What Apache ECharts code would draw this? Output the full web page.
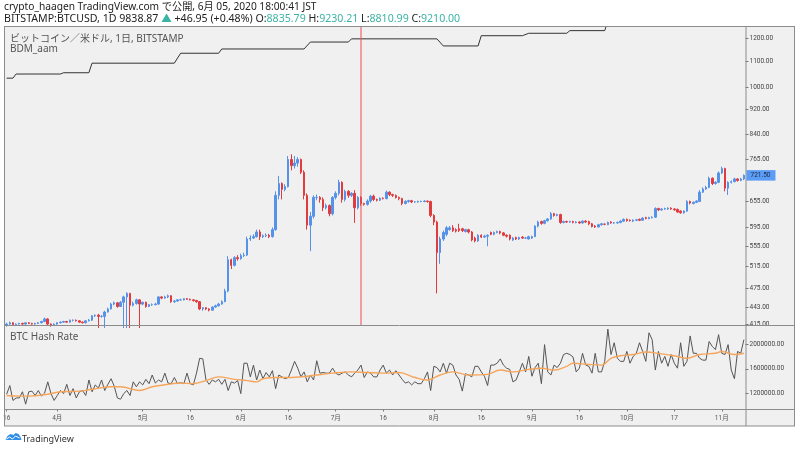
<!DOCTYPE html>
<html><head><meta charset="utf-8">
<script src="https://cdn.jsdelivr.net/npm/echarts@6/dist/echarts.min.js"></script>
<style>html,body{margin:0;padding:0;background:#fff;}#c{width:800px;height:449px;}</style>
</head><body><div id="c"></div>
<script>
// ---- categories (daily bars, a few days missing in the source feed) ----
const firstDate = '2016-03-16';
const lastDate = '2016-11-08';
const missingDates = ['2016-04-12', '2016-04-13', '2016-04-14', '2016-10-16'];
const dates = [];
(function () {
  let t = Date.parse(firstDate + 'T00:00:00Z');
  const end = Date.parse(lastDate + 'T00:00:00Z');
  while (t <= end) {
    const s = new Date(t).toISOString().slice(0, 10);
    if (missingDates.indexOf(s) < 0) dates.push(s);
    t += 86400000;
  }
})();

// ---- x tick labels ----
const xTickDates = ['2016-03-16','2016-04-01','2016-05-01','2016-05-16','2016-06-01','2016-06-16','2016-07-01','2016-07-16','2016-08-01','2016-08-16','2016-09-01','2016-09-16','2016-10-01','2016-10-17','2016-11-01'];
const xTickLabels = ['16','4月','5月','16','6月','16','7月','16','8月','16','9月','16','10月','17','11月'];

// ---- price axis ticks ----
const priceTicks = [415, 443, 475, 515, 555, 595, 655, 765, 840, 920, 1000, 1100, 1200];
const priceMin = 413.8, priceMax = 1252;
const lastPrice = 721.5;
const cursorDate = '2016-07-09';

// ---- candles ----
const opens = [
414,416,418,415,416,417,416,418,417,416,
417,418,420,424,416,414,416,418,419,420,
419,422,422,421,419,418,421,422,429,430,
428,428,435,440,448,450,444,451,460,466,
446,449,455,448,451,444,447,447,448,460,
458,460,462,452,453,455,455,457,456,455,
454,452,440,442,440,438,443,445,448,452,
470,528,517,532,530,536,537,570,572,575,
585,575,577,578,575,590,670,700,685,692,
765,748,755,765,730,670,600,620,665,665,
660,640,645,626,665,675,703,660,680,670,
675,640,665,650,648,656,668,660,658,663,
662,678,672,670,665,662,650,655,657,654,
654,655,655,656,655,622,607,542,570,580,
590,594,590,592,592,586,590,585,572,566,
578,574,576,584,580,584,586,583,578,578,
568,573,570,574,572,570,572,575,598,608,
604,610,614,626,622,624,606,608,607,608,
606,607,605,609,608,603,598,596,601,602,
601,607,605,605,606,609,613,611,609,611,
613,611,617,615,617,618,638,635,637,637,
639,637,636,632,628,632,655,650,653,655,
678,686,690,714,700,703,728,740,688,703,
705,712,708,712];
const closes = [
416,418,415,416,417,416,418,417,416,417,
418,420,424,416,414,416,418,419,420,419,
422,422,421,419,418,421,422,429,430,428,
428,435,440,448,450,444,451,460,466,446,
449,455,448,451,444,447,447,448,460,458,
460,462,452,453,455,455,457,456,455,454,
452,440,442,440,438,443,445,448,452,470,
528,517,532,530,536,537,570,572,575,585,
575,577,578,575,590,670,700,685,692,765,
748,755,765,730,670,600,620,665,665,660,
640,645,626,665,675,703,660,680,670,675,
640,665,650,648,656,668,660,658,663,662,
678,672,670,665,662,650,655,657,654,654,
655,655,656,655,622,607,542,570,584,594,
594,588,587,588,588,590,585,568,566,578,
574,576,578,580,584,586,583,578,576,570,
572,570,573,572,572,575,575,598,607,604,
610,614,626,622,624,606,608,607,608,606,
607,605,609,607,603,597,596,601,603,602,
606,605,605,606,609,613,610,610,611,612,
611,616,615,617,618,638,635,637,638,639,
637,635,630,628,632,655,651,653,656,678,
686,690,714,700,703,728,740,688,703,705,
712,708,712,721.5];
const lows = [
412,415,413,414,415,415,415,416,415,415,
416,417,419,414,412,413,415,417,418,418,
418,420,420,418,417,417,420,421,427,410,
426,410,434,439,446,442,443,410,410,410,
444,447,410,446,442,443,445,446,447,456,
457,458,450,450,452,454,454,455,454,452,
450,438,437,438,436,437,442,444,447,451,
468,510,515,526,528,533,535,566,570,573,
568,572,574,572,573,588,660,660,680,690,
735,740,745,725,660,590,545,615,658,652,
632,636,620,622,660,670,652,655,664,666,
605,636,645,645,645,652,656,655,656,660,
660,668,666,662,658,646,648,652,651,652,
652,653,653,652,618,600,466,520,566,576,
588,585,584,585,585,584,582,565,563,564,
572,572,555,578,578,582,580,576,573,567,
566,568,568,570,570,569,570,574,595,601,
602,608,612,619,620,603,604,605,605,604,
604,603,603,605,600,595,594,595,599,600,
600,603,603,603,604,607,608,608,607,609,
609,610,613,613,615,616,632,633,635,635,
635,633,628,626,626,630,648,648,651,654,
676,684,688,696,697,701,725,680,671,700,
703,705,706,709];
const highs = [
418,420,419,417,418,418,419,419,418,418,
419,421,426,425,417,417,419,420,421,421,
423,423,423,422,420,422,424,430,431,432,
430,437,442,450,452,451,453,462,468,467,
452,457,456,452,452,448,449,450,461,461,
462,464,463,455,456,457,458,458,457,456,
455,453,443,443,441,444,447,450,454,474,
535,530,535,537,540,542,575,578,580,590,
590,580,582,581,595,680,720,703,698,775,
780,775,772,768,735,675,630,670,672,668,
665,650,648,668,680,710,706,684,683,678,
683,668,668,652,660,671,672,662,665,665,
682,680,674,672,667,664,658,659,659,656,
657,657,658,657,657,625,610,575,588,598,
598,600,593,603,594,592,592,587,575,580,
580,579,580,586,586,588,588,585,580,580,
574,575,575,576,574,577,577,600,610,610,
612,616,630,628,626,626,610,610,610,610,
609,609,611,611,610,605,600,603,605,604,
608,609,607,608,611,615,615,613,613,614,
615,618,619,619,620,641,640,639,640,641,
641,639,638,634,634,658,657,655,658,683,
690,694,718,716,706,732,745,742,706,708,
715,714,715,724];

// ---- BDM_aam step line (corner points: bar index, value) ----
const bdmIdx = [0,2,3,17,18,26,27,53,55,67,68,94,96,108,109,136,138,149,150,163,165,177,178,189,191,233];
const bdmVal = [1034,1034,1050,1050,1055,1055,1093,1093,1134,1134,1152,1152,1182,1182,1196,1196,1165,1165,1210,1210,1221,1221,1233,1233,1320,1320];

// ---- BTC hash rate (millions) ----
const hashRate = [
1.19,1.33,1.09,1.13,1.13,1.23,1.03,1.23,1.24,
1.17,1.25,1.16,1.21,1.39,1.20,1.09,1.17,1.25,
1.20,1.35,1.17,1.28,1.13,1.23,1.25,1.17,1.42,1.23,
1.34,1.29,1.42,1.25,1.35,1.44,1.32,1.13,1.11,
1.20,1.25,1.17,1.39,1.31,1.39,1.34,1.43,1.36,1.50,
1.37,1.42,1.39,1.53,1.37,1.36,1.46,1.36,1.38,
1.36,1.53,1.36,1.34,1.53,1.77,1.76,1.42,1.35,1.42,
1.39,1.43,1.35,1.43,1.25,1.39,1.37,1.41,1.20,
1.69,1.69,1.47,1.66,1.42,1.58,1.44,1.54,1.47,1.57,
1.28,1.50,1.47,1.44,1.46,1.58,1.72,1.61,1.47,1.55,
1.39,1.50,1.42,1.73,1.53,1.54,1.53,1.53,1.61,
1.53,1.50,1.53,1.55,1.50,1.47,1.53,1.58,1.66,1.46,
1.55,1.53,1.47,1.47,1.58,1.66,1.53,1.58,1.50,1.57,1.50,
1.43,1.37,1.39,1.34,1.39,1.36,1.36,1.44,1.55,1.25,
1.64,1.62,1.55,1.69,1.53,1.69,1.66,1.50,1.43,1.24,
1.52,1.50,1.47,1.64,1.64,1.55,1.48,1.33,1.66,1.66,
1.69,1.76,1.66,1.61,1.59,1.39,1.42,1.55,1.69,1.55,
1.80,1.48,1.62,1.69,1.36,1.99,1.55,1.50,1.66,1.62,
1.69,1.83,1.85,1.83,1.79,1.55,1.61,1.85,1.66,1.64,
1.53,1.85,1.55,1.55,1.72,2.24,1.83,2.02,1.77,1.72,
1.72,1.88,1.69,1.80,1.85,2.02,1.88,1.72,2.18,2.07,
1.58,1.88,1.69,1.80,1.64,1.83,1.69,1.61,2.02,1.64,
1.72,2.13,1.85,1.85,1.77,1.74,1.74,2.04,1.96,1.91,
2.15,1.85,1.83,1.99,1.58,1.44,1.88,1.85,2.07];
const hashAvgIdx = [0,4,7,13,17,23,27,33,36,42,46,51,55,59,63,67,72,76,79,81,85,90,93,98,103,109,114,119,124,129,133,137,141,146,152,156,160,165,169,173,177,179,184,188,191,194,198,202,207,211,215,219,224,226,230,233];
const hashAvg = [1.17,1.16,1.16,1.19,1.23,1.24,1.27,1.31,1.31,1.25,1.31,1.35,1.37,1.36,1.41,1.47,1.43,1.41,1.39,1.44,1.46,1.46,1.47,1.50,1.53,1.55,1.54,1.53,1.54,1.46,1.42,1.50,1.55,1.50,1.51,1.58,1.55,1.59,1.61,1.58,1.64,1.69,1.67,1.66,1.77,1.81,1.83,1.87,1.84,1.81,1.77,1.83,1.85,1.88,1.83,1.85];
const hashTicks = [1.2, 1.6, 2.0];

// ---- build ----
const candleData = dates.map((d, i) => [opens[i], closes[i], lows[i], highs[i]]);
const bdmData = bdmIdx.map((x, i) => [x, bdmVal[i]]);
const avgData = hashAvgIdx.map((x, i) => [x, hashAvg[i]]);
const cursorData = [[cursorDate, priceMin], [cursorDate, priceMax]];
const tickMap = {};
xTickDates.forEach((d, i) => { tickMap[d] = xTickLabels[i]; });
const showTick = (idx, val) => tickMap[val] !== undefined;

const UP = '#5592ea', DOWN = '#e23b3e', BORDER = '#8c8c8c', CURSOR = '#f24a4a';
const axisFont = 'Roboto, "Noto Sans CJK JP", sans-serif';
const hdrFont = '"Noto Sans", "Noto Sans CJK JP", sans-serif';
const L = 5, R = 54.5;

const chart = echarts.init(document.getElementById('c'), null, {renderer: 'canvas'});
const seg = (x1, y1, x2, y2) => ({type: 'line', silent: true, z: 50, shape: {x1, y1, x2, y2}, style: {stroke: BORDER, lineWidth: 1}});
const lbl = (text, left, top, size, color, extra) => Object.assign({text, left, top, padding: 0,
  textStyle: {fontSize: size, fontWeight: 'normal', color, fontFamily: hdrFont}}, extra || {});
chart.setOption({
  animation: false,
  backgroundColor: '#ffffff',
  title: [
    lbl('crypto_haagen TradingView.com で公開, 6月 05, 2020 18:00:41 JST', 4, 2, 10.2, '#222'),
    {text: '{a|BITSTAMP:BTCUSD, 1D 9838.87 }{g|▲}{a| +46.95 (+0.48%) O:}{g|8835.79}{a| H:}{g|9230.21}{a| L:}{g|8810.99}{a| C:}{g|9210.00}',
      left: 4, top: 13.5, padding: 0,
      textStyle: {fontWeight: 'normal', fontSize: 10.6, fontFamily: hdrFont, rich: {
        a: {fontSize: 10.6, fontWeight: 'normal', color: '#222', fontFamily: hdrFont},
        g: {fontSize: 10.6, fontWeight: 'normal', color: '#3bb3a5', fontFamily: hdrFont}}}},
    lbl('ビットコイン／米ドル, 1日, BITSTAMP', 10, 34, 10, '#555'),
    lbl('BDM_aam', 10, 44.5, 10, '#555'),
    lbl('BTC Hash Rate', 10, 332, 10, '#555'),
    lbl('TradingView', 22, 435, 9, '#333')
  ],
  graphic: [
    {type: 'rect', silent: true, z: -10, shape: {x: 4, y: 26, width: 791, height: 400}, style: {fill: '#f0f0f0'}},
    seg(4.5, 26, 4.5, 426), seg(4, 26.5, 795, 26.5), seg(746, 26, 746, 426), seg(794.5, 26, 794.5, 426),
    seg(4, 325.5, 795, 325.5), seg(4, 409.5, 795, 409.5), seg(4, 426, 795, 426),
    {type: 'group', left: 4, top: 433, silent: true, children: [
      {type: 'polygon', shape: {points: [[0,9],[2,5],[5,3],[8,4],[10,2],[13,3],[15,6],[16,9]]}, style: {fill: '#2e8ee8'}},
      {type: 'polyline', shape: {points: [[1,8],[4,6],[7,8],[10,5],[14,7]]}, style: {stroke: '#fff', lineWidth: 1, fill: null}}
    ]}
  ],
  grid: [
    {left: L, right: R, top: 26.5, height: 299},
    {left: L, right: R, top: 326, height: 83.5}
  ],
  xAxis: [
    {type: 'category', gridIndex: 0, data: dates, boundaryGap: true,
      axisLine: {show: false}, axisTick: {show: false}, axisLabel: {show: false}, splitLine: {show: false}},
    {type: 'category', gridIndex: 1, data: dates, boundaryGap: true,
      axisLine: {show: true, lineStyle: {color: BORDER}},
      axisTick: {show: true, interval: showTick, alignWithLabel: true, length: 2, lineStyle: {color: '#777'}},
      axisLabel: {show: true, interval: showTick, formatter: v => tickMap[v] || '', fontSize: 6.5, color: '#555', margin: 6, fontFamily: axisFont},
      splitLine: {show: false}}
  ],
  yAxis: [
    {type: 'log', gridIndex: 0, position: 'right', logBase: 10, min: priceMin, max: priceMax,
      axisLine: {show: false},
      axisTick: {show: true, length: 3, customValues: priceTicks, lineStyle: {color: '#777'}},
      axisLabel: {show: true, customValues: priceTicks, formatter: v => Number(v).toFixed(2), fontSize: 6.5, color: '#444', margin: 4, fontFamily: axisFont},
      splitLine: {show: false}},
    {type: 'value', gridIndex: 1, position: 'right', min: 0.944, max: 2.29,
      axisLine: {show: false},
      axisTick: {show: true, length: 3, customValues: hashTicks, lineStyle: {color: '#777'}},
      axisLabel: {show: true, customValues: hashTicks, formatter: v => (v * 1000000).toFixed(2), fontSize: 6.5, color: '#444', margin: 4, fontFamily: axisFont},
      splitLine: {show: false}}
  ],
  series: [
    {type: 'line', name: 'BDM_aam', xAxisIndex: 0, yAxisIndex: 0, data: bdmData, symbol: 'none',
      lineStyle: {color: '#333', width: 1}, z: 3},
    {type: 'candlestick', xAxisIndex: 0, yAxisIndex: 0, data: candleData, barWidth: '62%',
      itemStyle: {color: UP, color0: DOWN, borderColor: UP, borderColor0: DOWN, borderWidth: 1},
      markLine: {symbol: 'none', silent: true, animation: false,
        lineStyle: {color: 'rgba(0,0,0,0)', width: 0},
        data: [
          {yAxis: lastPrice,
            label: {show: true, position: 'end', formatter: lastPrice.toFixed(2),
              backgroundColor: '#5b9cf6', color: '#1d2b44', fontSize: 6.5, padding: [2, 5, 2, 4], distance: 1, fontFamily: axisFont}}
        ]}},
    {type: 'line', name: 'cursor', xAxisIndex: 0, yAxisIndex: 0, data: cursorData, symbol: 'none', z: 10,
      lineStyle: {color: CURSOR, width: 1}},
    {type: 'line', name: 'BTC Hash Rate', xAxisIndex: 1, yAxisIndex: 1, data: hashRate, symbol: 'none',
      lineStyle: {color: '#555', width: 1}},
    {type: 'line', name: 'avg', xAxisIndex: 1, yAxisIndex: 1, data: avgData, symbol: 'none', smooth: 0.4,
      lineStyle: {color: '#f6a55a', width: 1.4}}
  ]
});
</script>
</body></html>
